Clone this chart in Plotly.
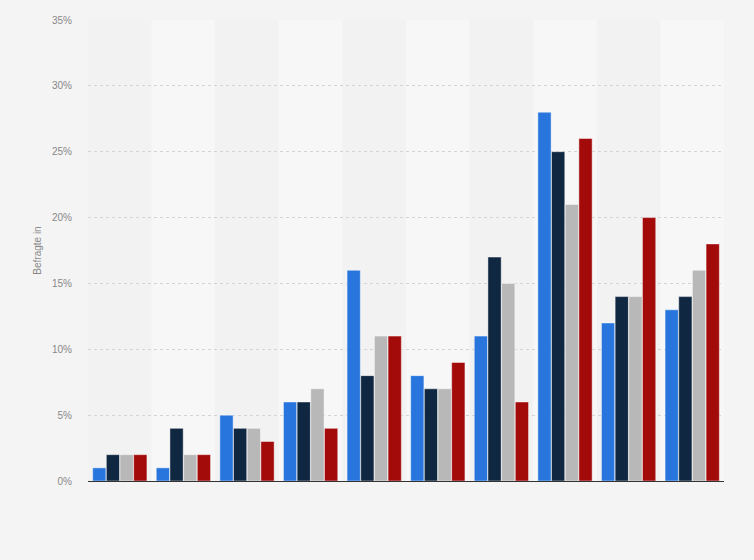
import plotly.graph_objects as go

groups = list(range(10))
series_a = [1, 1, 5, 6, 16, 8, 11, 28, 12, 13]
series_b = [2, 4, 4, 6, 8, 7, 17, 25, 14, 14]
series_c = [2, 2, 4, 7, 11, 7, 15, 21, 14, 16]
series_d = [2, 2, 3, 4, 11, 9, 6, 26, 20, 18]
colors = ["#2876dd", "#0f2740", "#b8b8b8", "#a30a0a"]
y_ticks = [0, 5, 10, 15, 20, 25, 30, 35]
y_labels = ["0%", "5%", "10%", "15%", "20%", "25%", "30%", "35%"]

fig = go.Figure()
for vals, col in zip([series_a, series_b, series_c, series_d], colors):
    fig.add_trace(go.Bar(x=groups, y=vals, marker=dict(color=col, line=dict(color="rgba(255,255,255,0.45)", width=1))))

shapes = []
for i in groups:
    shapes.append(dict(type="rect", xref="x", yref="paper", x0=i - 0.5, x1=i + 0.5, y0=0, y1=1,
                       fillcolor="#f7f7f7" if i % 2 == 1 else "#f2f2f2", line=dict(width=0), layer="below"))

fig.update_layout(
    width=754, height=560,
    margin=dict(l=88, r=30, t=20, b=79),
    paper_bgcolor="#f4f4f4", plot_bgcolor="#f2f2f2",
    barmode="group", bargap=0.14, bargroupgap=0.03,
    showlegend=False, shapes=shapes,
    font=dict(family="Liberation Sans, Arial, sans-serif", size=10, color="#888888"),
    xaxis=dict(range=[-0.5, 9.5], showticklabels=False, showgrid=False, zeroline=False,
               showline=True, linecolor="#333333", linewidth=1, ticks=""),
    yaxis=dict(range=[0, 35], tickvals=y_ticks, ticktext=y_labels, showgrid=True,
               gridcolor="#d4d4d4", griddash="dot", gridwidth=1, zeroline=False,
               ticks="", ticklabelstandoff=15,
               title=dict(text="Befragte in", font=dict(size=10, color="#888888"), standoff=8)),
)
fig.write_html("out.html", config={"displayModeBar": False},
               post_script="document.body.style.margin='0';document.body.style.background='#f4f4f4';")
